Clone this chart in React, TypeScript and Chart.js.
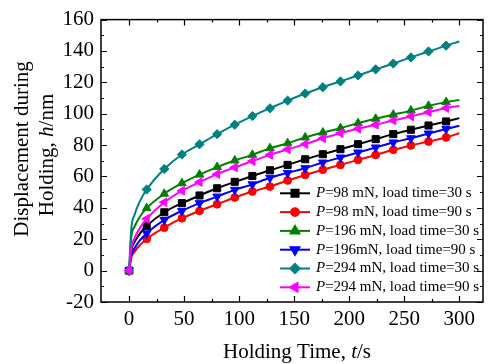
import React, { useEffect, useRef } from 'react';
import { Chart, registerables } from 'chart.js';
import { drawPoint } from 'chart.js/helpers';

Chart.register(...registerables);

// Holding time (s)
const times = [0, 2, 5, 10, 16, 32, 48, 64, 80, 96, 112, 128, 144, 160, 176, 192, 208, 224, 240, 256, 272, 288, 300];
const unmarkedTimes = [2, 5, 10, 300];

// Displacement during holding (nm)
const s98_30 = [0, 12.8, 18.2, 23.8, 28.5, 37.2, 43, 47.9, 52.5, 56.6, 60.3, 64, 67.4, 71, 74.2, 77.4, 80.6, 83.8, 87, 89.8, 92.5, 95.1, 97.2];
const s98_90 = [0, 8.1, 12.1, 16.4, 20.2, 27.4, 33.4, 38.1, 42.3, 46.6, 50.4, 53.6, 57.5, 61, 64.3, 67.4, 70.6, 73.7, 77, 79.8, 82.3, 84.9, 87.6];
const s196_30 = [0, 21.3, 28, 34.5, 39.8, 49, 55.7, 61.2, 66, 70.2, 73.8, 78, 81.2, 84.9, 88, 90.8, 94, 96.8, 99.4, 102, 105, 107.4, 108.8];
const s196_90 = [0, 9.5, 14.3, 19.4, 23.8, 32.3, 38.1, 43, 47.2, 51.5, 55, 59.2, 62.3, 65.3, 68.9, 72.1, 75.3, 78.5, 81.7, 84.4, 87.4, 90.2, 92.3];
const s294_30 = [0, 26.6, 35.6, 44.5, 51.7, 64.8, 74, 80.5, 87, 93, 98.5, 103.5, 108.4, 112.9, 116.9, 120.6, 124.4, 128.3, 132, 135.9, 139.7, 143.4, 146];
const s294_90 = [0, 14.4, 20.7, 27.4, 33, 43.6, 50.9, 56.4, 61.5, 65.8, 69.8, 73.8, 77.3, 80.6, 84.4, 87.6, 90.4, 93, 95.7, 98.3, 101, 103.6, 105];

const seriesValues = [s98_30, s98_90, s196_30, s196_90, s294_30, s294_90];
const legendLabels = [
  '=98 mN, load time=30 s',
  '=98 mN, load time=90 s',
  '=196 mN, load time=30 s',
  '=196mN, load time=90 s',
  '=294 mN, load time=30 s',
  '=294 mN, load time=90 s',
];
const colors = ['#000000', '#ff0000', '#008000', '#0000ff', '#008080', '#ff00ff'];
const pointStyles = ['rect', 'circle', 'triangle', 'triangle', 'rectRot', 'triangle'];
const pointRotations = [0, 0, 0, 180, 0, -90];
const pointSizes = [5, 3.9, 5, 5, 4.6, 5];

const xTicks = [0, 50, 100, 150, 200, 250, 300];
const xMinorTicks = [25, 75, 125, 175, 225, 275];
const yTicks = [-20, 0, 20, 40, 60, 80, 100, 120, 140, 160];
const yMinorTicks = [-10, 10, 30, 50, 70, 90, 110, 130, 150];

const FONT = '"Liberation Serif", "Times New Roman", serif';

type Part = { text: string; italic?: boolean };

function drawRich(ctx: CanvasRenderingContext2D, parts: Part[], cx: number, y: number, size: number) {
  const fonts = parts.map((p) => `${p.italic ? 'italic ' : ''}${size}px ${FONT}`);
  const widths = parts.map((p, i) => {
    ctx.font = fonts[i];
    return ctx.measureText(p.text).width;
  });
  const total = widths.reduce((a, b) => a + b, 0);
  let x = cx - total / 2;
  ctx.textAlign = 'left';
  parts.forEach((p, i) => {
    ctx.font = fonts[i];
    ctx.fillText(p.text, x, y);
    x += widths[i];
  });
}

const decorPlugin = {
  id: 'decor',
  afterDraw(chart: any) {
    const ctx: CanvasRenderingContext2D = chart.ctx;
    const { left, right, top, bottom } = chart.chartArea;
    const xs = chart.scales.x;
    const ys = chart.scales.y;
    ctx.save();
    ctx.strokeStyle = '#000';
    ctx.lineWidth = 1.5;
    ctx.strokeRect(left, top, right - left, bottom - top);
    ctx.lineWidth = 1.2;
    ctx.beginPath();
    const tick = (vals: number[], len: number) => {
      vals.forEach((v) => {
        const px = Math.round(xs.getPixelForValue(v)) + 0.5;
        ctx.moveTo(px, bottom);
        ctx.lineTo(px, bottom - len);
        ctx.moveTo(px, top);
        ctx.lineTo(px, top + len);
      });
    };
    const ytick = (vals: number[], len: number) => {
      vals.forEach((v) => {
        const py = Math.round(ys.getPixelForValue(v)) + 0.5;
        ctx.moveTo(left, py);
        ctx.lineTo(left + len, py);
        ctx.moveTo(right, py);
        ctx.lineTo(right - len, py);
      });
    };
    tick(xTicks, 6);
    tick(xMinorTicks, 3);
    ytick(yTicks, 6);
    ytick(yMinorTicks, 3);
    ctx.stroke();

    // legend
    const rowTop = 193.3;
    const rowStep = 18.8;
    legendLabels.forEach((label, i) => {
      const y = rowTop + i * rowStep;
      ctx.strokeStyle = colors[i];
      ctx.fillStyle = colors[i];
      ctx.lineWidth = 2;
      ctx.beginPath();
      ctx.moveTo(280, y);
      ctx.lineTo(310, y);
      ctx.stroke();
      drawPoint(ctx, {
        pointStyle: pointStyles[i] as any,
        radius: pointSizes[i],
        rotation: pointRotations[i],
        borderWidth: 1,
      } as any, 295, y);
      ctx.fillStyle = '#000';
      ctx.textBaseline = 'middle';
      const fonts = [`italic 15px ${FONT}`, `15px ${FONT}`];
      ctx.textAlign = 'left';
      ctx.font = fonts[0];
      ctx.fillText('P', 316, y);
      const w = ctx.measureText('P').width;
      ctx.font = fonts[1];
      ctx.fillText(label, 316 + w, y);
    });

    // axis titles
    ctx.fillStyle = '#000';
    ctx.textBaseline = 'alphabetic';
    drawRich(ctx, [{ text: 'Holding Time, ' }, { text: 't', italic: true }, { text: '/s' }], 297, 358, 21);

    ctx.textBaseline = 'middle';
    ctx.save();
    ctx.translate(22, 149);
    ctx.rotate(-Math.PI / 2);
    drawRich(ctx, [{ text: 'Displacement during' }], 0, 0, 21);
    ctx.restore();
    ctx.save();
    ctx.translate(47, 155);
    ctx.rotate(-Math.PI / 2);
    drawRich(ctx, [{ text: 'Holding, ' }, { text: 'h', italic: true }, { text: '/nm' }], 0, 0, 21);
    ctx.restore();

    ctx.restore();
  },
};

export default function App() {
  const ref = useRef<HTMLCanvasElement | null>(null);
  useEffect(() => {
    document.body.style.margin = '0';
    const canvas = ref.current;
    if (!canvas) return;
    const datasets = seriesValues.map((vals, i) => ({
      label: 'P' + legendLabels[i],
      data: times.map((t, j) => ({ x: t, y: vals[j] })),
      borderColor: colors[i],
      backgroundColor: colors[i],
      borderWidth: 2,
      pointStyle: pointStyles[i] as any,
      pointRotation: pointRotations[i],
      pointRadius: times.map((t) => (unmarkedTimes.includes(t) ? 0 : pointSizes[i])),
      pointBorderWidth: 1,
      pointBackgroundColor: colors[i],
      pointBorderColor: colors[i],
      cubicInterpolationMode: 'monotone' as const,
      order: 6 - i,
    }));
    const chart = new Chart(canvas, {
      type: 'line',
      data: { datasets },
      options: {
        responsive: false,
        animation: false,
        layout: { padding: { top: 19, right: 2, left: 0, bottom: 0 } },
        plugins: { legend: { display: false }, tooltip: { enabled: false } },
        scales: {
          x: {
            type: 'linear',
            min: -25.5,
            max: 321.5,
            grid: { display: false, drawTicks: false },
            border: { display: false },
            afterBuildTicks: (s: any) => {
              s.ticks = xTicks.map((v) => ({ value: v }));
            },
            afterFit: (s: any) => {
              s.height = 62;
            },
            ticks: {
              padding: 5,
              color: '#000',
              font: { family: FONT, size: 21 },
              maxRotation: 0,
              autoSkip: false,
            },
          },
          y: {
            type: 'linear',
            min: -20,
            max: 160,
            grid: { display: false, drawTicks: false },
            border: { display: false },
            afterBuildTicks: (s: any) => {
              s.ticks = yTicks.map((v) => ({ value: v }));
            },
            afterFit: (s: any) => {
              s.width = 101;
            },
            ticks: {
              padding: 7,
              color: '#000',
              font: { family: FONT, size: 21 },
              autoSkip: false,
            },
          },
        },
      },
      plugins: [decorPlugin],
    });
    return () => chart.destroy();
  }, []);
  return (
    <div style={{ width: 489, height: 364 }}>
      <canvas ref={ref} width={489} height={364} style={{ display: 'block' }} />
    </div>
  );
}
